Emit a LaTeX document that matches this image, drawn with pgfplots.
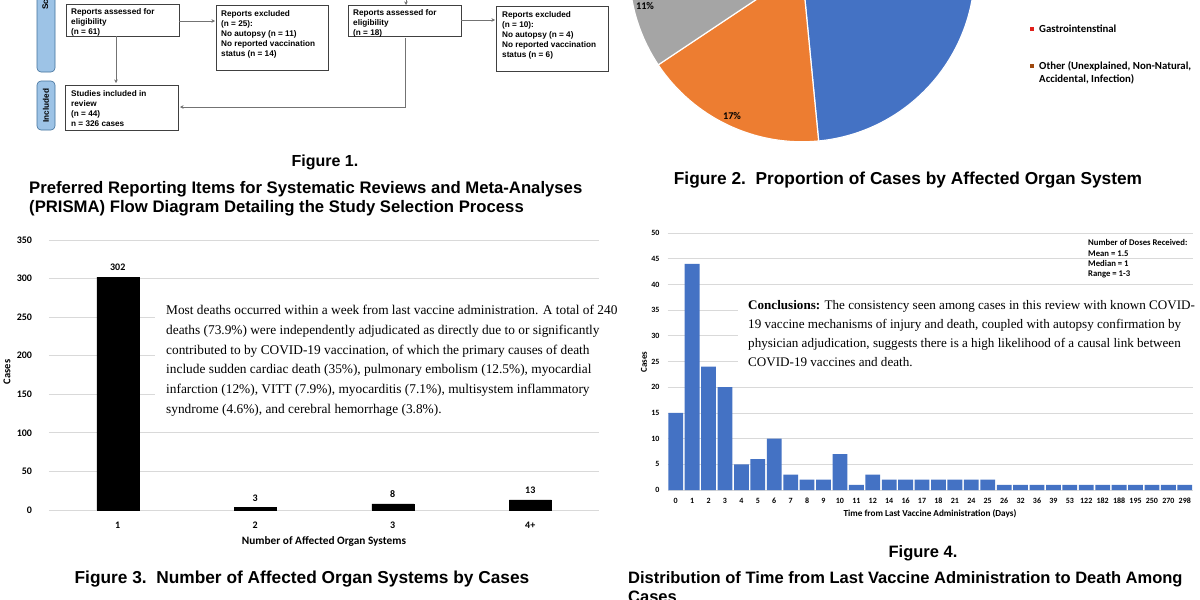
\documentclass[border=0pt]{standalone}
\usepackage{pgfplots}
\pgfplotsset{compat=1.18}
\usepackage{fontspec}
\setmainfont{Liberation Serif}
\newfontfamily\arial{Liberation Sans}
\newfontfamily\calibri{Carlito}
\usetikzlibrary{arrows.meta}

\definecolor{xblue}{HTML}{4472C4}
\definecolor{xorange}{HTML}{ED7D31}
\definecolor{xgray}{HTML}{A5A5A5}
\definecolor{xyellow}{HTML}{FFC000}
\definecolor{xlblue}{HTML}{5B9BD5}
\definecolor{xgreen}{HTML}{70AD47}
\definecolor{xred}{HTML}{E0201B}
\definecolor{xbrown}{HTML}{9E480E}
\definecolor{xgrid}{HTML}{D9D9D9}
\definecolor{sidefill}{HTML}{9DC3E6}
\definecolor{sidedraw}{HTML}{41719C}

\newcommand{\fig}[1]{\arial\bfseries\fontsize{#1}{19}\selectfont}
\newcommand{\flow}{\arial\bfseries\fontsize{8.2}{10}\selectfont}

\begin{document}
\begin{tikzpicture}
\clip (0pt,0pt) rectangle (1200pt,-600pt);
\fill[white] (0pt,0pt) rectangle (1200pt,-600pt);

%% Figure 2: pie (counts out of 326 cases)
\begin{axis}[at={(802pt,31pt)}, anchor=center, scale only axis,
  width=345.6pt, height=345.6pt, xmin=-1, xmax=1, ymin=-1, ymax=1,
  hide axis, clip=false]
\def\pieR{172.8pt}
\fill[xblue,   draw=white, line width=1.2pt] (axis cs:0,0) -- ++(90:\pieR)
  arc[start angle=90, delta angle={-158/326*360}, radius=\pieR] -- cycle;
\fill[xorange, draw=white, line width=1.2pt] (axis cs:0,0) -- ++({90-158/326*360}:\pieR)
  arc[start angle={90-158/326*360}, delta angle={-56/326*360}, radius=\pieR] -- cycle;
\fill[xgray,   draw=white, line width=1.2pt] (axis cs:0,0) -- ++({90-214/326*360}:\pieR)
  arc[start angle={90-214/326*360}, delta angle={-36/326*360}, radius=\pieR] -- cycle;
\fill[xyellow, draw=white, line width=1.2pt] (axis cs:0,0) -- ++({90-250/326*360}:\pieR)
  arc[start angle={90-250/326*360}, delta angle={-24/326*360}, radius=\pieR] -- cycle;
\fill[xlblue,  draw=white, line width=1.2pt] (axis cs:0,0) -- ++({90-274/326*360}:\pieR)
  arc[start angle={90-274/326*360}, delta angle={-20/326*360}, radius=\pieR] -- cycle;
\fill[xgreen,  draw=white, line width=1.2pt] (axis cs:0,0) -- ++({90-294/326*360}:\pieR)
  arc[start angle={90-294/326*360}, delta angle={-14/326*360}, radius=\pieR] -- cycle;
\fill[xred,    draw=white, line width=1.2pt] (axis cs:0,0) -- ++({90-308/326*360}:\pieR)
  arc[start angle={90-308/326*360}, delta angle={-8/326*360}, radius=\pieR] -- cycle;
\fill[xbrown,  draw=white, line width=1.2pt] (axis cs:0,0) -- ++({90-316/326*360}:\pieR)
  arc[start angle={90-316/326*360}, delta angle={-10/326*360}, radius=\pieR] -- cycle;
\end{axis}

%% Figure 3: number of affected organ systems
\begin{axis}[at={(49pt,-510pt)}, anchor=south west, scale only axis,
  width=550pt, height=270pt,
  xmin=-0.5, xmax=3.5, ymin=0, ymax=350,
  ytick={0,50,...,350}, xtick=data, xticklabels={1,2,3,4+},
  /pgf/number format/assume math mode=true,
  axis line style={draw=none}, major tick length=0pt,
  ymajorgrids, grid style={xgrid, line width=0.8pt},
  tick label style={font=\calibri\bfseries\fontsize{10}{12}\selectfont},
  yticklabel style={xshift=-13.5pt},
  xticklabel style={yshift=-8pt, text height=6.5pt, text depth=0pt},
  ybar, bar width=42pt,
  nodes near coords,
  nodes near coords style={font=\calibri\bfseries\fontsize{10}{12}\selectfont, yshift=2.5pt}]
\addplot[fill=black, draw=black] coordinates {(0,302) (1,3) (2,8) (3,13)};
\end{axis}

%% Figure 4: days from last vaccine administration to death
\begin{axis}[at={(667.5pt,-490pt)}, anchor=south west, scale only axis,
  width=525.5pt, height=257pt,
  xmin=-0.5, xmax=31.5, ymin=0, ymax=50,
  ytick={0,5,...,50}, xtick={0,...,31},
  xticklabels={0,1,2,3,4,5,6,7,8,9,10,11,12,14,16,17,18,21,24,25,26,32,36,39,53,122,182,188,195,250,270,298},
  /pgf/number format/assume math mode=true,
  axis line style={draw=none}, major tick length=0pt,
  ymajorgrids, grid style={xgrid, line width=0.8pt},
  tick label style={font=\calibri\bfseries\fontsize{8}{10}\selectfont},
  yticklabel style={xshift=-4.5pt},
  xticklabel style={yshift=-5pt, text height=5.2pt, text depth=0pt},
  ybar, bar width=14.8pt]
\addplot[fill=xblue, draw=none] coordinates {
 (0,15) (1,44) (2,24) (3,20) (4,5) (5,6) (6,10) (7,3) (8,2) (9,2)
 (10,7) (11,1) (12,3) (13,2) (14,2) (15,2) (16,2) (17,2) (18,2) (19,2)
 (20,1) (21,1) (22,1) (23,1) (24,1) (25,1) (26,1) (27,1) (28,1) (29,1)
 (30,1) (31,1)};
\end{axis}

\begin{scope}[x=1pt,y=-1pt]
%% Figure 1: PRISMA flow (visible part)
\tikzset{box/.style={draw=black!75, line width=0.8pt},
  arr/.style={draw=black!55, line width=0.6pt, -{Stealth[length=3.5pt,width=3.5pt]}},
  ftxt/.style={anchor=north west, inner sep=0pt, align=left, font=\flow}}
\filldraw[fill=sidefill, draw=sidedraw, line width=0.6pt, rounded corners=4pt] (37,-60) rectangle (55,72);
\filldraw[fill=sidefill, draw=sidedraw, line width=0.6pt, rounded corners=4pt] (37,81) rectangle (55,130);
\node[rotate=90, anchor=west, inner sep=0pt, font=\flow] at (46,10) {Screening};
\node[rotate=90, inner sep=0pt, font=\flow] at (46,105.5) {Included};

\draw[box] (66,4) rectangle (179,36);
\draw[box] (216,5) rectangle (328,70);
\draw[box] (348,5) rectangle (461,36);
\draw[box] (496,6) rectangle (608,71);
\draw[box] (65,85) rectangle (178,130);
\node[ftxt] at (71,8) {Reports assessed for\\eligibility\\(n = 61)};
\node[ftxt] at (221,10) {Reports excluded\\(n = 25):\\No autopsy (n = 11)\\No reported vaccination\\status (n = 14)};
\node[ftxt] at (353,9) {Reports assessed for\\eligibility\\(n = 18)};
\node[ftxt] at (502,11) {Reports excluded\\(n = 10):\\No autopsy (n = 4)\\No reported vaccination\\status (n = 6)};
\node[ftxt] at (71,90) {Studies included in\\review\\(n = 44)\\n = 326 cases};

\draw[arr] (179,21) -- (215,21);
\draw[arr] (116,36) -- (116,83);
\draw[arr] (406,-5) -- (406,5);
\draw[arr] (461,20) -- (495,20);
\draw[arr] (405,38) -- (405,107) -- (180,107);

\node[font=\fig{16}, anchor=base] at (325,166) {Figure 1.};
\node[font=\fig{16.7}, anchor=base west, inner sep=0pt] at (29,193) {Preferred Reporting Items for Systematic Reviews and Meta-Analyses};
\node[font=\fig{16.7}, anchor=base west, inner sep=0pt] at (29,212) {(PRISMA) Flow Diagram Detailing the Study Selection Process};

%% Figure 2 labels and legend
\node[font=\calibri\bfseries\fontsize{10.3}{12}\selectfont] at (645,6) {11\%};
\node[font=\calibri\bfseries\fontsize{10.3}{12}\selectfont] at (732,116) {17\%};
\fill[xred] (1030.2,27.2) rectangle (1033.8,30.8);
\fill[xbrown] (1030.2,64.2) rectangle (1033.8,67.8);
\node[anchor=west, inner sep=0pt, font=\calibri\bfseries\fontsize{10.8}{13}\selectfont] at (1039,29) {Gastrointenstinal};
\node[anchor=north west, inner sep=0pt, align=left, font=\calibri\bfseries\fontsize{10.8}{13.5}\selectfont] at (1039,61) {Other (Unexplained, Non-Natural,\\Accidental, Infection)};
\node[font=\fig{17.3}, anchor=base] at (908,184) {Figure 2.\ \ Proportion of Cases by Affected Organ System};

%% Figure 3 labels and text
\node[font=\calibri\bfseries\fontsize{11.3}{13}\selectfont] at (324,541) {Number of Affected Organ Systems};
\node[rotate=90, font=\calibri\bfseries\fontsize{10.5}{12}\selectfont] at (7,372) {Cases};
\fill[white] (155,293) rectangle (625,420);
\begin{scope}[every node/.style={anchor=base west, inner sep=0pt, font=\fontsize{13.35}{19.8}\selectfont}]
\node at (166,314.5) {Most deaths occurred within a week from last vaccine administration. A total of 240};
\node at (166,334.2) {deaths (73.9\%) were independently adjudicated as directly due to or significantly};
\node at (166,354.0) {contributed to by COVID-19 vaccination, of which the primary causes of death};
\node at (166,373.7) {include sudden cardiac death (35\%), pulmonary embolism (12.5\%), myocardial};
\node at (166,393.5) {infarction (12\%), VITT (7.9\%), myocarditis (7.1\%), multisystem inflammatory};
\node at (166,413.2) {syndrome (4.6\%), and cerebral hemorrhage (3.8\%).};
\end{scope}
\node[font=\fig{17.3}, anchor=base] at (302,583) {Figure 3.\ \ Number of Affected Organ Systems by Cases};

%% Figure 4 labels and text
\node[font=\calibri\bfseries\fontsize{9.2}{11}\selectfont] at (930,514) {Time from Last Vaccine Administration (Days)};
\node[rotate=90, font=\calibri\bfseries\fontsize{9}{11}\selectfont] at (644,362) {Cases};
\begin{scope}[every node/.style={anchor=base west, inner sep=0pt, font=\calibri\bfseries\fontsize{8.7}{10}\selectfont}]
\node at (1088,245.5) {Number of Doses Received:};
\node at (1088,256.5) {Mean = 1.5};
\node at (1088,266) {Median = 1};
\node at (1088,276) {Range = 1-3};
\end{scope}
\fill[white] (738,292) rectangle (1200,373);
\begin{scope}[every node/.style={anchor=base west, inner sep=0pt, font=\fontsize{13.1}{19}\selectfont}]
\node at (748,309.5) {\textbf{Conclusions:} The consistency seen among cases in this review with known COVID-};
\node at (748,328.5) {19 vaccine mechanisms of injury and death, coupled with autopsy confirmation by};
\node at (748,347.5) {physician adjudication, suggests there is a high likelihood of a causal link between};
\node at (748,366.5) {COVID-19 vaccines and death.};
\end{scope}
\node[font=\fig{16.5}, anchor=base] at (923,557) {Figure 4.};
\node[font=\fig{16.5}, anchor=base west, inner sep=0pt] at (628,583) {Distribution of Time from Last Vaccine Administration to Death Among};
\node[font=\fig{16.5}, anchor=base west, inner sep=0pt] at (628,602) {Cases};
\end{scope}
\end{tikzpicture}
\end{document}
